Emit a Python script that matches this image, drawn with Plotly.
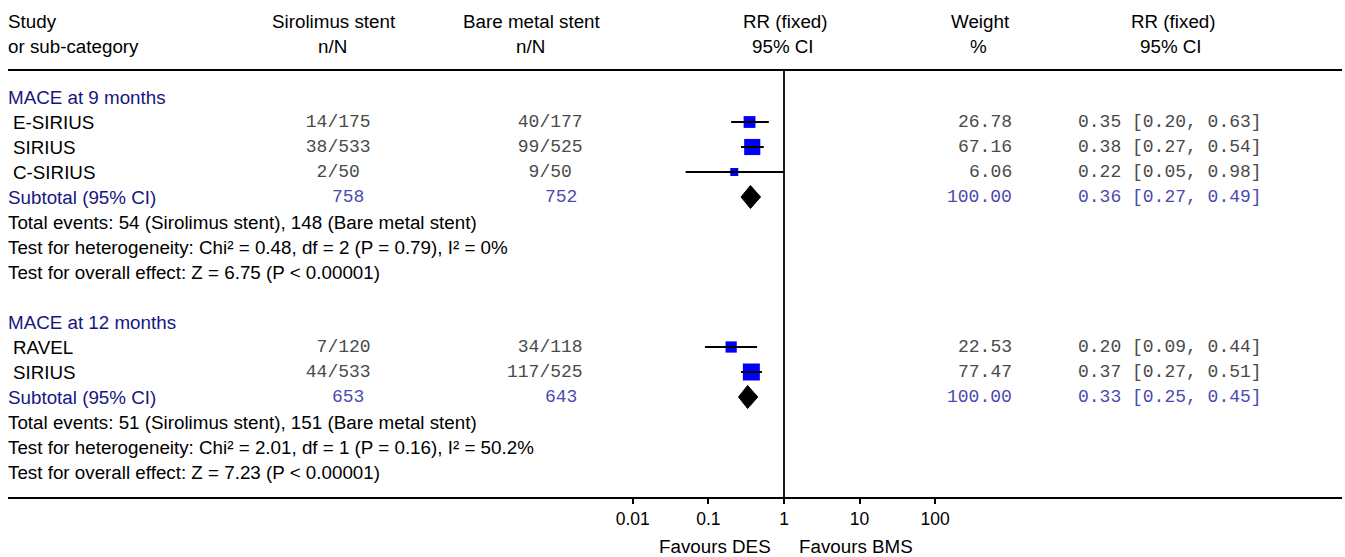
import math
import plotly.graph_objects as go

# ---------------- DATA ----------------
group_titles = ["MACE at 9 months", "MACE at 12 months"]

study_9 = ["E-SIRIUS", "SIRIUS", "C-SIRIUS"]
ses_events_9 = [14, 38, 2]
ses_total_9 = [175, 533, 50]
bms_events_9 = [40, 99, 9]
bms_total_9 = [177, 525, 50]
weight_9 = [26.78, 67.16, 6.06]
rr_9 = [0.35, 0.38, 0.22]
rr_lo_9 = [0.20, 0.27, 0.05]
rr_hi_9 = [0.63, 0.54, 0.98]

study_12 = ["RAVEL", "SIRIUS"]
ses_events_12 = [7, 44]
ses_total_12 = [120, 533]
bms_events_12 = [34, 117]
bms_total_12 = [118, 525]
weight_12 = [22.53, 77.47]
rr_12 = [0.20, 0.37]
rr_lo_12 = [0.09, 0.27]
rr_hi_12 = [0.44, 0.51]

subtotal_ses_total = [758, 653]
subtotal_bms_total = [752, 643]
subtotal_weight = [100.00, 100.00]
subtotal_rr = [0.36, 0.33]
subtotal_lo = [0.27, 0.25]
subtotal_hi = [0.49, 0.45]

summary_9 = [
    "Total events: 54 (Sirolimus stent), 148 (Bare metal stent)",
    "Test for heterogeneity: Chi² = 0.48, df = 2 (P = 0.79), I² = 0%",
    "Test for overall effect: Z = 6.75 (P < 0.00001)",
]
summary_12 = [
    "Total events: 51 (Sirolimus stent), 151 (Bare metal stent)",
    "Test for heterogeneity: Chi² = 2.01, df = 1 (P = 0.16), I² = 50.2%",
    "Test for overall effect: Z = 7.23 (P < 0.00001)",
]

tick_vals = [0.01, 0.1, 1, 10, 100]
tick_labels = ["0.01", "0.1", "1", "10", "100"]

header_line1 = ["Study", "Sirolimus stent", "Bare metal stent", "RR (fixed)", "Weight", "RR (fixed)"]
header_line2 = ["or sub-category", "n/N", "n/N", "95% CI", "%", "95% CI"]
favours_left = "Favours DES"
favours_right = "Favours BMS"

# ---------------- LAYOUT CONSTANTS ----------------
W, H = 1345, 557
NULL_PX, DECADE_PX = 784, 75.6
ROW0_PX, ROW_PX = 97, 25
PLOT_BOTTOM = 498

SANS = "Liberation Sans, Arial, sans-serif"
MONO = "Liberation Mono, Courier New, monospace"
SANS_SIZE = 18.8
MONO_SIZE = 18
NAVY = "#16167f"
SUB_BLUE = "#4a4ab0"
GRAY = "#4a4a4a"


def row_of(px):
    return (px - ROW0_PX) / ROW_PX


def nbsp(s):
    return s.replace(" ", "\u00a0")


groups = [
    dict(title=group_titles[0], study=study_9, se=ses_events_9, st=ses_total_9,
         be=bms_events_9, bt=bms_total_9, w=weight_9, rr=rr_9, lo=rr_lo_9, hi=rr_hi_9,
         summary=summary_9),
    dict(title=group_titles[1], study=study_12, se=ses_events_12, st=ses_total_12,
         be=bms_events_12, bt=bms_total_12, w=weight_12, rr=rr_12, lo=rr_lo_12, hi=rr_hi_12,
         summary=summary_12),
]

annotations = []


def add_text(x_px, y, text, anchor="left", family=SANS, size=SANS_SIZE, color="black", yref="y"):
    annotations.append(dict(
        x=x_px / W, xref="paper", y=y, yref=yref, text=text, showarrow=False,
        xanchor=anchor, yanchor="middle", font=dict(family=family, size=size, color=color),
        borderpad=0,
    ))


# headers
hdr_x = [(7, "left"), (334, "center"), (532, "center"), (785, "center"), (980, "center"), (1173, "center")]
for (x, a), t1, t2 in zip(hdr_x, header_line1, header_line2):
    add_text(x, row_of(21), t1, a)
    add_text(x if a == "left" else x - 2, row_of(46), t2, a)

SES_SLASH, BMS_SLASH = 333, 545
WEIGHT_RIGHT, CI_LEFT = 1013, 1077

sq_x, sq_y, sq_size = [], [], []
ci_x, ci_y = [], []
dia_traces = []

row = 0
for gi, g in enumerate(groups):
    add_text(7, row, g["title"], color=NAVY)
    row += 1
    for i, name in enumerate(g["study"]):
        add_text(12, row, name)
        add_text(SES_SLASH, row, nbsp(f"{g['se'][i]:>3}/{g['st'][i]:<3}"), "center", MONO, MONO_SIZE, GRAY)
        add_text(BMS_SLASH, row, nbsp(f"{g['be'][i]:>3}/{g['bt'][i]:<3}"), "center", MONO, MONO_SIZE, GRAY)
        add_text(WEIGHT_RIGHT, row, f"{g['w'][i]:.2f}", "right", MONO, MONO_SIZE, GRAY)
        add_text(CI_LEFT, row, f"{g['rr'][i]:.2f} [{g['lo'][i]:.2f}, {g['hi'][i]:.2f}]", "left", MONO, MONO_SIZE, GRAY)
        sq_x.append(g["rr"][i]); sq_y.append(row)
        sq_size.append(4.5 + 1.42 * math.sqrt(g["w"][i]))
        ci_x += [g["lo"][i], g["hi"][i], None]
        ci_y += [row, row, None]
        row += 1
    # subtotal
    add_text(7, row, "Subtotal (95% CI)", color=NAVY)
    add_text(SES_SLASH - 2, row, str(subtotal_ses_total[gi]), "left", MONO, MONO_SIZE, SUB_BLUE)
    add_text(BMS_SLASH - 1, row, str(subtotal_bms_total[gi]), "left", MONO, MONO_SIZE, SUB_BLUE)
    add_text(WEIGHT_RIGHT, row, f"{subtotal_weight[gi]:.2f}", "right", MONO, MONO_SIZE, SUB_BLUE)
    add_text(CI_LEFT, row, f"{subtotal_rr[gi]:.2f} [{subtotal_lo[gi]:.2f}, {subtotal_hi[gi]:.2f}]",
             "left", MONO, MONO_SIZE, SUB_BLUE)
    h = 0.46
    dia_traces.append(go.Scatter(
        x=[subtotal_lo[gi], subtotal_rr[gi], subtotal_hi[gi], subtotal_rr[gi], subtotal_lo[gi]],
        y=[row, row - h, row, row + h, row],
        fill="toself", fillcolor="black", mode="lines", line=dict(color="black", width=1),
        hoverinfo="skip", showlegend=False))
    row += 1
    for s in g["summary"]:
        add_text(7, row, s)
        row += 1
    row += 1  # blank line between groups

fig = go.Figure()
fig.add_trace(go.Scatter(x=sq_x, y=sq_y, mode="markers",
                         marker=dict(symbol="square", size=sq_size, color="#0000ff", opacity=1,
                                     line=dict(width=0)),
                         showlegend=False, hoverinfo="skip"))
fig.add_trace(go.Scatter(x=ci_x, y=ci_y, mode="lines", line=dict(color="black", width=2),
                         showlegend=False, hoverinfo="skip"))
for t in dia_traces:
    fig.add_trace(t)

# favours labels
fav_y = -(546 - PLOT_BOTTOM) / PLOT_BOTTOM
add_text(NULL_PX - 12, fav_y, favours_left, "right", yref="paper")
add_text(NULL_PX + 14, fav_y, favours_right, "left", yref="paper")

y_top = (PLOT_BOTTOM - ROW0_PX) / ROW_PX
y_bot_px0 = (0 - ROW0_PX) / ROW_PX
shapes = [
    dict(type="line", xref="paper", yref="y", x0=8 / W, x1=1342 / W, y0=row_of(70), y1=row_of(70),
         line=dict(color="black", width=2)),
    dict(type="line", xref="paper", yref="paper", x0=8 / W, x1=1342 / W, y0=0, y1=0,
         line=dict(color="black", width=2)),
    dict(type="line", xref="x", yref="y", x0=1, x1=1, y0=row_of(70), y1=y_top,
         line=dict(color="black", width=1.8)),
]

fig.update_layout(
    width=W, height=H,
    margin=dict(l=0, r=0, t=0, b=H - PLOT_BOTTOM, pad=0),
    paper_bgcolor="white", plot_bgcolor="white",
    showlegend=False,
    annotations=annotations,
    shapes=shapes,
    xaxis=dict(type="log", range=[(0 - NULL_PX) / DECADE_PX, (W - NULL_PX) / DECADE_PX],
               tickvals=tick_vals, ticktext=tick_labels, ticks="outside", ticklen=5, tickwidth=1.5,
               tickcolor="black", showgrid=False, zeroline=False, showline=False,
               tickfont=dict(family=SANS, size=17.5, color="black"), fixedrange=True),
    yaxis=dict(range=[y_top, y_bot_px0], visible=False, showgrid=False, zeroline=False, fixedrange=True),
)

fig.write_html("out.html", config={"displayModeBar": False},
               post_script="document.body.style.margin='0px';document.body.style.padding='0px';")
